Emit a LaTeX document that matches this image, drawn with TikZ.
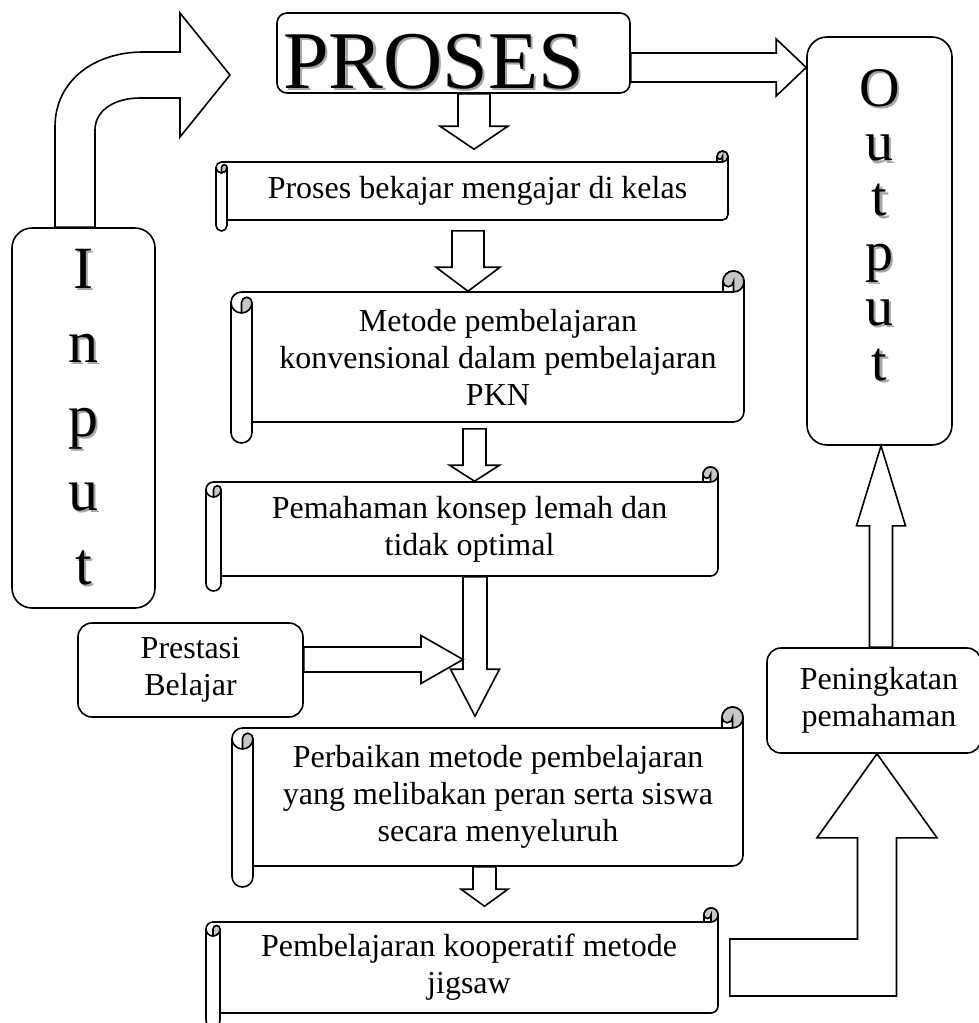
\documentclass[tikz,border=0pt]{standalone}
\usepackage{fontspec}
\setmainfont{Liberation Serif}
\usetikzlibrary{calc}

% letter with a soft grey shadow
\newcommand{\shad}[1]{\makebox[0pt][l]{\kern1.2pt\raisebox{-1.2pt}{\color{black!35}#1}}#1}

% scroll: name, body left, body top, body right, body bottom, roll size, text
\newcommand{\scrollbox}[7]{%
  \pgfmathsetmacro\rw{#6}\pgfmathsetmacro\rr{#6/2}\pgfmathsetmacro\rc{#6/4}
  \draw[scroll] (#2-\rw,#3+\rr) arc[start angle=180,delta angle=90,radius=\rr]
    -- (#4-\rw,#3) -- (#4-\rw,#3-\rr) arc[start angle=180,delta angle=180,radius=\rr]
    -- (#4,#5-\rr) arc[start angle=0,delta angle=90,radius=\rr]
    -- (#2,#5) -- (#2,#5+\rr) arc[start angle=0,delta angle=180,radius=\rr] -- cycle;
  \filldraw[curl] (#4-\rr,#3) arc[start angle=90,delta angle=-270,radius=\rr]
    arc[start angle=180,delta angle=-180,radius=\rc] -- cycle;
  \filldraw[curl] (#2-\rr,#3+\rw) arc[start angle=90,delta angle=-90,radius=\rr]
    arc[start angle=0,delta angle=-180,radius=\rc] -- cycle;
  \draw (#4-\rw,#3) -- (#4-\rr,#3)
    (#2-\rr,#3+\rw) arc[start angle=90,delta angle=90,radius=\rr]
    (#2,#3+\rr) -- (#2,#5);
  \node[scrolltext, minimum width={(#4-#2)*0.5pt}, minimum height={(#5-#3)*0.5pt}]
    (#1) at ({(#2+#4)/2},{(#3+#5)/2}) {#7};
}

\tikzset{
  rbox/.style       = {draw, fill=white, rounded corners=#1, align=center,
                       font={\fontsize{16}{18.5}\selectfont}, inner sep=2pt},
  rbox/.default     = 6pt,
  scroll/.style     = {draw, fill=white},
  curl/.style       = {draw, fill=black!22},
  scrolltext/.style = {align=center, font={\fontsize{16}{18.5}\selectfont}, inner sep=0pt},
  blk/.style        = {draw, fill=white},
  downarr/.style n args = {3}{blk, to path={let \p1=(\tikztostart), \p2=(\tikztotarget) in
      (\x1-#1,\y1) -- (\x1-#1,\y2+#3) -- (\x1-#2,\y2+#3) -- (\x1,\y2)
      -- (\x1+#2,\y2+#3) -- (\x1+#1,\y2+#3) -- (\x1+#1,\y1) -- cycle}},
  uparr/.style n args = {3}{blk, to path={let \p1=(\tikztostart), \p2=(\tikztotarget) in
      (\x1-#1,\y1) -- (\x1-#1,\y2-#3) -- (\x1-#2,\y2-#3) -- (\x1,\y2)
      -- (\x1+#2,\y2-#3) -- (\x1+#1,\y2-#3) -- (\x1+#1,\y1) -- cycle}},
  rightarr/.style n args = {3}{blk, to path={let \p1=(\tikztostart), \p2=(\tikztotarget) in
      (\x1,\y1+#1) -- (\x2-#3,\y1+#1) -- (\x2-#3,\y1+#2) -- (\x2,\y1)
      -- (\x2-#3,\y1-#2) -- (\x2-#3,\y1-#1) -- (\x1,\y1-#1) -- cycle}},
  bentarr/.style n args = {4}{blk, to path={let \p1=(\tikztostart), \p2=(\tikztotarget) in
      (\x1,\y1+#1) -- (\x2-#2,\y1+#1) -- (\x2-#2,\y2-#4) -- (\x2-#3,\y2-#4) -- (\x2,\y2)
      -- (\x2+#3,\y2-#4) -- (\x2+#2,\y2-#4) -- (\x2+#2,\y1-#1) -- (\x1,\y1-#1) -- cycle}},
}

\begin{document}
\begin{tikzpicture}[x=0.5pt, y=-0.5pt, thick]
  \useasboundingbox (0,0) rectangle (979,1023);

  % rounded boxes
  \node[rbox=5pt, minimum width=176.5pt, minimum height=40pt] (proses) at (453.5,53)
    {\raisebox{-4.75pt}[\height][\depth]{\fontsize{41}{41}\selectfont\shad{PROSES}\kern20pt}};
  \node[rbox=10pt, minimum width=71.5pt, minimum height=190pt] (input) at (83.5,418)
    {\parbox{40pt}{\centering\fontsize{30}{37}\selectfont
      \shad{I}\\\shad{n}\\\shad{p}\\\shad{u}\\\shad{t}}};
  \node[rbox=10pt, minimum width=72.5pt, minimum height=204pt] (output) at (879.5,241)
    {\raisebox{7.5pt}[\height][\depth]{\parbox{40pt}{\centering\fontsize{28}{27.4}\selectfont
      \shad{O}\\\shad{u}\\\shad{t}\\\shad{p}\\\shad{u}\\\shad{t}}}};
  \node[rbox=7pt, minimum width=112.5pt, minimum height=47pt] (prestasi) at (190.5,670)
    {Prestasi\\Belajar};
  \node[rbox=7pt, minimum width=107pt, minimum height=52.5pt] (ningkat) at (874,700.5)
    {\hspace*{5pt}Peningkatan\\\hspace*{5pt}pemahaman};

  % scrolls
  \scrollbox{s1}{227}{162}{728}{220}{11}{Proses bekajar mengajar di kelas}
  \scrollbox{s2}{252}{292}{744}{422}{21}{Metode pembelajaran\\konvensional dalam pembelajaran\\PKN}
  \scrollbox{s3}{221}{482}{718}{576}{15}{Pemahaman konsep lemah dan\\tidak optimal}
  \scrollbox{s4}{253}{728}{743}{866}{21}{Perbaikan metode pembelajaran\\yang melibakan peran serta siswa\\secara menyeluruh}
  \scrollbox{s5}{220}{922}{718}{1013}{14}{Pembelajaran kooperatif metode\\jigsaw}

  % block arrows
  \coordinate (intip) at (230,75);
  \coordinate (join) at (463,659.5);
  \draw[blk] ([xshift=-14.25pt]input.north) -- (55,127) .. controls (55,80) and (95,52) .. (143,52)
    -- (180,52) -- (180,13) -- (intip) -- (180,137) -- (180,98) -- (140,98)
    .. controls (115,98) and (95,110) .. (95,130) -- ([xshift=5.75pt]input.north) -- cycle;
  \draw[rightarr={7.25pt}{14.25pt}{15pt}] ([yshift=-7.25pt]proses.east) to (output.west);
  \draw[downarr={8pt}{17pt}{11.5pt}] ([xshift=10.25pt]proses.south) to ([yshift=6pt]s1.north);
  \draw[downarr={8pt}{16pt}{12pt}] ([xshift=-4.75pt,yshift=-5pt]s1.south) to (s2.north);
  \draw[downarr={5.75pt}{12.5pt}{8pt}] ([xshift=-11.75pt,yshift=-3pt]s2.south) to (s3.north);
  \draw[downarr={6pt}{12.25pt}{23.5pt}] ([xshift=2.75pt]s3.south) to ([yshift=5.5pt]s4.north);
  \draw[rightarr={6.25pt}{12pt}{21pt}] ([yshift=5.25pt]prestasi.east) to (join);
  \draw[downarr={5.75pt}{11.75pt}{8.5pt}] ([xshift=-6.75pt]s4.south) to ([yshift=7.5pt]s5.north);
  \draw[bentarr={14.25pt}{9.75pt}{30pt}{42pt}] ([xshift=5.5pt]s5.east) to ([xshift=1.5pt]ningkat.south);
  \draw[uparr={5.75pt}{12.25pt}{40pt}] ([xshift=3.5pt]ningkat.north) to (output.south);
\end{tikzpicture}
\end{document}
